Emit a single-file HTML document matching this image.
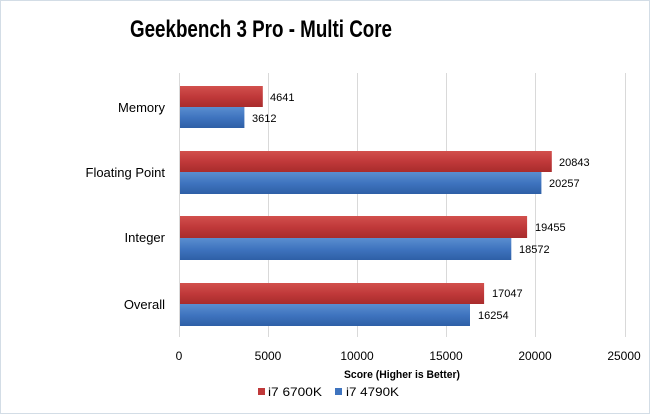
<!DOCTYPE html>
<html><head><meta charset="utf-8"><style>
html,body{margin:0;padding:0;background:#fff;}
svg{display:block;}
text{font-family:"Liberation Sans",sans-serif;fill:#000;}
</style></head><body>
<svg width="650" height="414" viewBox="0 0 650 414" xmlns="http://www.w3.org/2000/svg">
<defs>
<linearGradient id="r" x1="0" y1="0" x2="0" y2="1"><stop offset="0" stop-color="#d2504d"/><stop offset="0.5" stop-color="#c0393a"/><stop offset="1" stop-color="#a82c2c"/></linearGradient>
<linearGradient id="b" x1="0" y1="0" x2="0" y2="1"><stop offset="0" stop-color="#5a8ed0"/><stop offset="0.5" stop-color="#3f74bf"/><stop offset="1" stop-color="#2e5fa6"/></linearGradient>
</defs>
<rect x="0.5" y="0.5" width="649" height="413" fill="#fff" stroke="#d3dde6"/>
<text x="261" y="37" font-size="24" font-weight="bold" text-anchor="middle" textLength="262" lengthAdjust="spacingAndGlyphs">Geekbench 3 Pro - Multi Core</text>
<g stroke="#d9d9d9" stroke-width="1">
<line x1="179.5" y1="73" x2="179.5" y2="337"/>
<line x1="268.5" y1="73" x2="268.5" y2="337"/>
<line x1="357.5" y1="73" x2="357.5" y2="337"/>
<line x1="446.5" y1="73" x2="446.5" y2="337"/>
<line x1="535.5" y1="73" x2="535.5" y2="337"/>
<line x1="625.5" y1="73" x2="625.5" y2="337"/>
</g>
<rect x="180" y="86" width="82.8" height="21" fill="url(#r)"/>
<rect x="180" y="107" width="64.4" height="21" fill="url(#b)"/>
<rect x="180" y="151" width="371.8" height="21" fill="url(#r)"/>
<rect x="180" y="172" width="361.4" height="22" fill="url(#b)"/>
<rect x="180" y="216" width="347.1" height="22" fill="url(#r)"/>
<rect x="180" y="238" width="331.3" height="22" fill="url(#b)"/>
<rect x="180" y="283" width="304.1" height="21" fill="url(#r)"/>
<rect x="180" y="304" width="290" height="22" fill="url(#b)"/>
<g font-size="11">
<text x="270" y="101">4641</text>
<text x="252" y="122">3612</text>
<text x="559" y="166">20843</text>
<text x="549" y="187">20257</text>
<text x="535" y="231">19455</text>
<text x="519" y="253">18572</text>
<text x="492" y="297">17047</text>
<text x="478" y="319">16254</text>
</g>
<g font-size="13" text-anchor="end">
<text x="165" y="112">Memory</text>
<text x="165" y="177">Floating Point</text>
<text x="165" y="242">Integer</text>
<text x="165" y="309">Overall</text>
</g>
<g font-size="12" text-anchor="middle">
<text x="179" y="360">0</text>
<text x="268" y="360">5000</text>
<text x="357" y="360">10000</text>
<text x="446" y="360">15000</text>
<text x="535" y="360">20000</text>
<text x="624" y="360">25000</text>
</g>
<text x="402" y="378" font-size="11" font-weight="bold" text-anchor="middle" textLength="116" lengthAdjust="spacingAndGlyphs">Score (Higher is Better)</text>
<rect x="258" y="388" width="7" height="7" fill="#c0393a"/>
<text x="268" y="396" font-size="12" textLength="54" lengthAdjust="spacingAndGlyphs">i7 6700K</text>
<rect x="335" y="388" width="7" height="7" fill="#3f74bf"/>
<text x="346" y="396" font-size="12" textLength="53" lengthAdjust="spacingAndGlyphs">i7 4790K</text>
</svg>
</body></html>
